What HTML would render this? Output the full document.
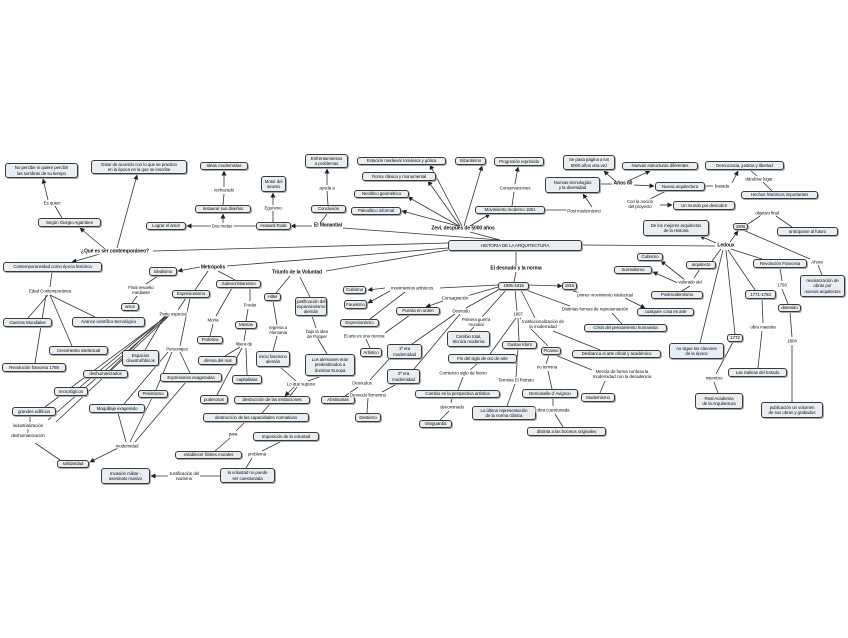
<!DOCTYPE html>
<html><head><meta charset="utf-8">
<style>
html,body{margin:0;padding:0;background:#fff;}
#c{position:relative;width:848px;height:638px;overflow:hidden;font-family:"Liberation Sans",sans-serif;}
svg{position:absolute;left:0;top:0;}
.n{position:absolute;box-sizing:border-box;border:1px solid #3a3a3a;border-radius:3px;background:#e8eef1;box-shadow:1px 1px 0 #aaa;display:flex;align-items:center;justify-content:center;text-align:center;font-size:4.5px;line-height:5.2px;letter-spacing:-0.1px;color:#111;white-space:nowrap;}
.l{position:absolute;transform:translate(-50%,-50%);font-size:4.5px;line-height:5.2px;letter-spacing:-0.1px;text-align:center;white-space:nowrap;background:#fff;color:#111;padding:0 1px;}
.b{font-weight:bold;font-size:5px;}
</style></head><body><div id="c">
<svg width="848" height="638" viewBox="0 0 848 638">
<defs><marker id="a" markerWidth="5" markerHeight="5" refX="4.5" refY="2.5" orient="auto" markerUnits="userSpaceOnUse"><path d="M0,0 L5,2.5 L0,5 z" fill="#222"/></marker></defs>
<g stroke="#333" stroke-width="0.8" fill="none">
<line x1="448" y1="243" x2="153" y2="251"/>
<line x1="448" y1="248" x2="227" y2="266"/>
<line x1="448" y1="250" x2="326" y2="271"/>
<line x1="500" y1="240" x2="343" y2="228"/>
<line x1="500" y1="240" x2="470" y2="232"/>
<line x1="516" y1="250" x2="516" y2="266"/>
<line x1="582" y1="245" x2="715" y2="246"/>
<line x1="105" y1="249" x2="80" y2="228" marker-end="url(#a)"/>
<line x1="117" y1="248" x2="137" y2="175" marker-end="url(#a)"/>
<line x1="100" y1="254" x2="72" y2="262" marker-end="url(#a)"/>
<line x1="62" y1="218" x2="55" y2="206"/>
<line x1="48" y1="200" x2="43" y2="179" marker-end="url(#a)"/>
<line x1="52" y1="272" x2="50" y2="287"/>
<line x1="48" y1="295" x2="28" y2="318"/>
<line x1="50" y1="295" x2="95" y2="317"/>
<line x1="50" y1="295" x2="72" y2="346"/>
<line x1="46" y1="295" x2="35" y2="363"/>
<line x1="256" y1="226" x2="232" y2="226"/>
<line x1="212" y1="226" x2="187" y2="226" marker-end="url(#a)"/>
<line x1="223" y1="223" x2="223" y2="214" marker-end="url(#a)"/>
<line x1="223" y1="205" x2="224" y2="194"/>
<line x1="224" y1="187" x2="224" y2="171" marker-end="url(#a)"/>
<line x1="273" y1="222" x2="273" y2="211"/>
<line x1="273" y1="205" x2="273" y2="193" marker-end="url(#a)"/>
<line x1="312" y1="226" x2="291" y2="226" marker-end="url(#a)"/>
<line x1="320" y1="223" x2="327" y2="214"/>
<line x1="328" y1="205" x2="327" y2="191"/>
<line x1="327" y1="185" x2="327" y2="169" marker-end="url(#a)"/>
<line x1="458" y1="226" x2="402" y2="211" marker-end="url(#a)"/>
<line x1="459" y1="226" x2="408" y2="197" marker-end="url(#a)"/>
<line x1="460" y1="226" x2="428" y2="181" marker-end="url(#a)"/>
<line x1="462" y1="226" x2="430" y2="165" marker-end="url(#a)"/>
<line x1="464" y1="226" x2="482" y2="166" marker-end="url(#a)"/>
<line x1="470" y1="226" x2="490" y2="214" marker-end="url(#a)"/>
<line x1="512" y1="206" x2="514" y2="192"/>
<line x1="515" y1="184" x2="518" y2="167" marker-end="url(#a)"/>
<line x1="545" y1="210" x2="575" y2="210"/>
<line x1="592" y1="207" x2="583" y2="194" marker-end="url(#a)"/>
<line x1="600" y1="184" x2="612" y2="184"/>
<line x1="615" y1="181" x2="604" y2="171" marker-end="url(#a)"/>
<line x1="628" y1="181" x2="650" y2="171" marker-end="url(#a)"/>
<line x1="634" y1="185" x2="654" y2="186" marker-end="url(#a)"/>
<line x1="705" y1="186" x2="713" y2="186"/>
<line x1="732" y1="183" x2="738" y2="171" marker-end="url(#a)"/>
<line x1="750" y1="170" x2="757" y2="176"/>
<line x1="763" y1="182" x2="772" y2="191"/>
<line x1="666" y1="191" x2="650" y2="199"/>
<line x1="660" y1="205" x2="672" y2="205" marker-end="url(#a)"/>
<line x1="716" y1="243" x2="700" y2="236" marker-end="url(#a)"/>
<line x1="730" y1="242" x2="738" y2="231" marker-end="url(#a)"/>
<line x1="748" y1="224" x2="760" y2="216"/>
<line x1="776" y1="216" x2="792" y2="227"/>
<line x1="743" y1="230" x2="810" y2="259"/>
<line x1="818" y1="265" x2="822" y2="275"/>
<line x1="721" y1="249" x2="712" y2="261"/>
<line x1="731" y1="249" x2="762" y2="259"/>
<line x1="728" y1="250" x2="755" y2="290"/>
<line x1="726" y1="250" x2="735" y2="334"/>
<line x1="723" y1="250" x2="700" y2="343"/>
<line x1="700" y1="269" x2="694" y2="278"/>
<line x1="685" y1="280" x2="661" y2="261" marker-end="url(#a)"/>
<line x1="678" y1="283" x2="653" y2="272" marker-end="url(#a)"/>
<line x1="690" y1="286" x2="682" y2="291"/>
<line x1="780" y1="268" x2="782" y2="281"/>
<line x1="782" y1="289" x2="788" y2="304"/>
<line x1="790" y1="312" x2="792" y2="337"/>
<line x1="792" y1="345" x2="792" y2="402"/>
<line x1="762" y1="299" x2="763" y2="323"/>
<line x1="762" y1="331" x2="758" y2="368"/>
<line x1="733" y1="342" x2="716" y2="374"/>
<line x1="714" y1="382" x2="718" y2="393"/>
<line x1="516" y1="272" x2="514" y2="282"/>
<line x1="529" y1="285" x2="562" y2="286" marker-end="url(#a)"/>
<line x1="570" y1="290" x2="580" y2="293"/>
<line x1="625" y1="298" x2="645" y2="308" marker-end="url(#a)"/>
<line x1="526" y1="290" x2="570" y2="306"/>
<line x1="612" y1="313" x2="622" y2="324"/>
<line x1="521" y1="290" x2="535" y2="318"/>
<line x1="553" y1="331" x2="600" y2="350"/>
<line x1="515" y1="290" x2="517" y2="311"/>
<line x1="518" y1="318" x2="519" y2="341"/>
<line x1="520" y1="318" x2="548" y2="346"/>
<line x1="516" y1="318" x2="490" y2="354"/>
<line x1="518" y1="349" x2="516" y2="377"/>
<line x1="515" y1="384" x2="507" y2="406"/>
<line x1="549" y1="355" x2="546" y2="364"/>
<line x1="548" y1="371" x2="552" y2="389"/>
<line x1="555" y1="355" x2="592" y2="370"/>
<line x1="605" y1="381" x2="600" y2="393"/>
<line x1="553" y1="398" x2="553" y2="406"/>
<line x1="555" y1="414" x2="563" y2="427"/>
<line x1="478" y1="363" x2="470" y2="370"/>
<line x1="463" y1="377" x2="458" y2="390"/>
<line x1="452" y1="398" x2="451" y2="403"/>
<line x1="449" y1="411" x2="440" y2="420"/>
<line x1="506" y1="290" x2="482" y2="317"/>
<line x1="474" y1="327" x2="470" y2="331"/>
<line x1="500" y1="289" x2="466" y2="308"/>
<line x1="455" y1="314" x2="412" y2="344"/>
<line x1="460" y1="314" x2="414" y2="369"/>
<line x1="390" y1="358" x2="370" y2="380"/>
<line x1="358" y1="387" x2="345" y2="396"/>
<line x1="397" y1="384" x2="382" y2="392"/>
<line x1="368" y1="398" x2="367" y2="413"/>
<line x1="498" y1="287" x2="467" y2="296"/>
<line x1="443" y1="301" x2="426" y2="307" marker-end="url(#a)"/>
<line x1="498" y1="285" x2="440" y2="288"/>
<line x1="385" y1="288" x2="368" y2="290" marker-end="url(#a)"/>
<line x1="390" y1="291" x2="368" y2="303" marker-end="url(#a)"/>
<line x1="405" y1="292" x2="370" y2="319"/>
<line x1="410" y1="315" x2="385" y2="333"/>
<line x1="366" y1="339" x2="370" y2="348"/>
<line x1="290" y1="276" x2="276" y2="293"/>
<line x1="300" y1="277" x2="310" y2="297"/>
<line x1="273" y1="301" x2="277" y2="325"/>
<line x1="277" y1="336" x2="273" y2="351"/>
<line x1="312" y1="316" x2="316" y2="328"/>
<line x1="318" y1="339" x2="327" y2="354"/>
<line x1="280" y1="367" x2="296" y2="381"/>
<line x1="322" y1="376" x2="308" y2="381"/>
<line x1="294" y1="387" x2="285" y2="396" marker-end="url(#a)"/>
<line x1="297" y1="387" x2="290" y2="396"/>
<line x1="270" y1="404" x2="262" y2="413"/>
<line x1="245" y1="422" x2="236" y2="431"/>
<line x1="230" y1="438" x2="215" y2="451"/>
<line x1="282" y1="441" x2="262" y2="451"/>
<line x1="252" y1="458" x2="246" y2="468"/>
<line x1="220" y1="476" x2="200" y2="476"/>
<line x1="168" y1="476" x2="151" y2="476" marker-end="url(#a)"/>
<line x1="200" y1="267" x2="178" y2="271" marker-end="url(#a)"/>
<line x1="208" y1="271" x2="195" y2="290"/>
<line x1="218" y1="271" x2="235" y2="280"/>
<line x1="158" y1="276" x2="146" y2="284"/>
<line x1="137" y1="296" x2="132" y2="303"/>
<line x1="232" y1="288" x2="216" y2="316"/>
<line x1="213" y1="324" x2="210" y2="336"/>
<line x1="250" y1="288" x2="250" y2="301"/>
<line x1="248" y1="309" x2="246" y2="321"/>
<line x1="246" y1="329" x2="244" y2="341"/>
<line x1="240" y1="347" x2="225" y2="356"/>
<line x1="242" y1="348" x2="217" y2="395"/>
<line x1="246" y1="348" x2="247" y2="375"/>
<line x1="186" y1="298" x2="178" y2="310"/>
<line x1="190" y1="298" x2="180" y2="346"/>
<line x1="165" y1="316" x2="145" y2="350" marker-start="url(#a)"/>
<line x1="165" y1="316" x2="110" y2="370"/>
<line x1="166" y1="316" x2="80" y2="387"/>
<line x1="167" y1="316" x2="45" y2="407"/>
<line x1="168" y1="316" x2="48" y2="420"/>
<line x1="169" y1="316" x2="56" y2="422"/>
<line x1="180" y1="352" x2="190" y2="373"/>
<line x1="172" y1="352" x2="156" y2="390"/>
<line x1="168" y1="352" x2="124" y2="404"/>
<line x1="152" y1="398" x2="130" y2="442"/>
<line x1="118" y1="413" x2="126" y2="442"/>
<line x1="186" y1="382" x2="135" y2="442"/>
<line x1="118" y1="448" x2="90" y2="462" marker-end="url(#a)"/>
<line x1="35" y1="443" x2="60" y2="460"/>
<line x1="30" y1="416" x2="30" y2="422"/>
</g></svg>

<div class="n" style="left:448px;top:240px;width:134px;height:11px;">HISTORIA DE LA ARQUITECTURA</div>
<div class="n" style="left:5px;top:163px;width:73px;height:15px;">No percibe ni quiere percibir<br>las sombras de su tiempo</div>
<div class="n" style="left:91px;top:160px;width:96px;height:14px;">Estar de acuerdo con lo que se practica<br>en la época en la que se inscribe</div>
<div class="n" style="left:200px;top:162px;width:48px;height:8px;">Ideas modernistas</div>
<div class="n" style="left:261px;top:176px;width:25px;height:16px;">Motor del<br>asunto</div>
<div class="n" style="left:195px;top:205px;width:56px;height:8px;">Instaurar sus diseños</div>
<div class="n" style="left:146px;top:222px;width:40px;height:8px;">Lograr el amor</div>
<div class="n" style="left:256px;top:222px;width:35px;height:8px;">Howard Roak</div>
<div class="n" style="left:38px;top:218px;width:63px;height:9px;">Según Giorgio Agamben</div>
<div class="n" style="left:3px;top:262px;width:99px;height:10px;">Contemporaneidad como época histórica</div>
<div class="n" style="left:3px;top:318px;width:49px;height:9px;">Guerras Mundiales</div>
<div class="n" style="left:72px;top:317px;width:73px;height:10px;">Avance científico-tecnológico</div>
<div class="n" style="left:49px;top:346px;width:59px;height:9px;">Crecimiento intelectual</div>
<div class="n" style="left:2px;top:363px;width:64px;height:9px;">Revolución francesa 1789</div>
<div class="n" style="left:149px;top:267px;width:28px;height:9px;">Idealismo</div>
<div class="n" style="left:121px;top:303px;width:18px;height:8px;">amor</div>
<div class="n" style="left:172px;top:290px;width:38px;height:8px;">Expresionismo</div>
<div class="n" style="left:216px;top:280px;width:45px;height:8px;">Judeocristianismo</div>
<div class="n" style="left:264px;top:293px;width:17px;height:8px;">Hitler</div>
<div class="n" style="left:295px;top:297px;width:32px;height:19px;">justificación del<br>expansionismo<br>alemán</div>
<div class="n" style="left:197px;top:336px;width:26px;height:8px;">Profetiza</div>
<div class="n" style="left:235px;top:321px;width:22px;height:8px;">Mesías</div>
<div class="n" style="left:122px;top:350px;width:37px;height:16px;">Espacios<br>claustrofóbicos</div>
<div class="n" style="left:198px;top:356px;width:39px;height:9px;">ofensa del mal</div>
<div class="n" style="left:256px;top:351px;width:34px;height:16px;">inicio fascismo<br>alemán</div>
<div class="n" style="left:305px;top:354px;width:50px;height:22px;">Los alemanes eran<br>predestinados a<br>dominar Europa</div>
<div class="n" style="left:83px;top:370px;width:45px;height:8px;">deshumanizados</div>
<div class="n" style="left:160px;top:373px;width:62px;height:9px;">Expresiones exageradas</div>
<div class="n" style="left:232px;top:375px;width:30px;height:9px;">capitalistas</div>
<div class="n" style="left:54px;top:387px;width:34px;height:9px;">tecnológicos</div>
<div class="n" style="left:138px;top:390px;width:30px;height:8px;">Pesimismo</div>
<div class="n" style="left:200px;top:395px;width:28px;height:9px;">poderosos</div>
<div class="n" style="left:234px;top:396px;width:76px;height:8px;">destrucción de las instituciones</div>
<div class="n" style="left:12px;top:407px;width:44px;height:9px;">grandes edificios</div>
<div class="n" style="left:89px;top:404px;width:56px;height:9px;">Maquillaje exagerado</div>
<div class="n" style="left:203px;top:413px;width:106px;height:9px;">destrucción de las capacidades normativas</div>
<div class="n" style="left:253px;top:432px;width:66px;height:9px;">Imposición de la voluntad</div>
<div class="n" style="left:175px;top:451px;width:67px;height:8px;">establecer límites morales</div>
<div class="n" style="left:57px;top:460px;width:32px;height:8px;">solidaridad</div>
<div class="n" style="left:101px;top:468px;width:49px;height:16px;">Invasión militar -<br>asesinato masivo</div>
<div class="n" style="left:220px;top:468px;width:55px;height:15px;">la voluntad no puede<br>ser cuestionada</div>
<div class="n" style="left:305px;top:154px;width:43px;height:14px;">Enfrentamientos<br>a problemas</div>
<div class="n" style="left:357px;top:157px;width:89px;height:8px;">Estación medieval románica y gótica</div>
<div class="n" style="left:455px;top:157px;width:31px;height:8px;">Bizantismo</div>
<div class="n" style="left:494px;top:157px;width:50px;height:9px;">Progresión reprimida</div>
<div class="n" style="left:362px;top:172px;width:74px;height:9px;">Roma clásica y monumental</div>
<div class="n" style="left:311px;top:205px;width:35px;height:8px;">Conclusión</div>
<div class="n" style="left:354px;top:190px;width:55px;height:8px;">Neolítico geométrico</div>
<div class="n" style="left:351px;top:207px;width:50px;height:8px;">Paleolítico informal</div>
<div class="n" style="left:475px;top:206px;width:70px;height:8px;">Movimiento moderno 1851</div>
<div class="n" style="left:563px;top:155px;width:52px;height:15px;">Se pasa página a los<br>5000 años otra vez</div>
<div class="n" style="left:545px;top:177px;width:55px;height:16px;">Nuevas tecnologías<br>y la diversidad</div>
<div class="n" style="left:622px;top:162px;width:76px;height:8px;">Nuevas estructuras diferentes</div>
<div class="n" style="left:705px;top:161px;width:79px;height:9px;">Democracia, justicia y libertad</div>
<div class="n" style="left:655px;top:182px;width:50px;height:9px;">Nueva arquitectura</div>
<div class="n" style="left:741px;top:191px;width:77px;height:8px;">Hechos históricos importantes</div>
<div class="n" style="left:673px;top:201px;width:62px;height:9px;">Un mundo por descubrir</div>
<div class="n" style="left:643px;top:220px;width:66px;height:16px;">De los mejores arquitectos<br>de la Historia</div>
<div class="n" style="left:733px;top:223px;width:15px;height:7px;">1806</div>
<div class="n" style="left:777px;top:227px;width:61px;height:9px;">anticiparse al futuro</div>
<div class="n" style="left:637px;top:253px;width:26px;height:8px;">Cubismo</div>
<div class="n" style="left:614px;top:266px;width:38px;height:8px;">Surrealismo</div>
<div class="n" style="left:686px;top:261px;width:30px;height:8px;">arquitecto</div>
<div class="n" style="left:753px;top:259px;width:54px;height:9px;">Revolución Francesa</div>
<div class="n" style="left:800px;top:275px;width:45px;height:22px;">revalorización de<br>obras por<br>nuevos arquitectos</div>
<div class="n" style="left:562px;top:282px;width:15px;height:8px;">1916</div>
<div class="n" style="left:651px;top:291px;width:52px;height:8px;">Postmodernismo</div>
<div class="n" style="left:745px;top:290px;width:31px;height:9px;">1771-1783</div>
<div class="n" style="left:778px;top:304px;width:23px;height:8px;">detenido</div>
<div class="n" style="left:637px;top:308px;width:57px;height:8px;">cualquier cosa es arte</div>
<div class="n" style="left:584px;top:324px;width:83px;height:8px;">Crisis del pensamiento humanista</div>
<div class="n" style="left:727px;top:334px;width:16px;height:8px;">1772</div>
<div class="n" style="left:669px;top:343px;width:55px;height:16px;">no sigue los cánones<br>de la época</div>
<div class="n" style="left:572px;top:350px;width:89px;height:8px;">Desbanca el arte oficial y académico</div>
<div class="n" style="left:728px;top:368px;width:59px;height:9px;">Las Salinas del Estado</div>
<div class="n" style="left:581px;top:393px;width:34px;height:9px;">Modernismo</div>
<div class="n" style="left:695px;top:393px;width:48px;height:16px;">Real Academia<br>de la Arquitectura</div>
<div class="n" style="left:761px;top:402px;width:62px;height:16px;">publicación un volumen<br>de sus obras y grabados</div>
<div class="n" style="left:498px;top:282px;width:31px;height:8px;">1905-1915</div>
<div class="n" style="left:343px;top:286px;width:23px;height:8px;">Cubismo</div>
<div class="n" style="left:344px;top:300px;width:23px;height:9px;">Fauvismo</div>
<div class="n" style="left:396px;top:307px;width:44px;height:8px;">Puesta en orden</div>
<div class="n" style="left:340px;top:319px;width:39px;height:8px;">Expresionismo</div>
<div class="n" style="left:447px;top:331px;width:43px;height:16px;">Cambio total,<br>técnica moderna</div>
<div class="n" style="left:502px;top:341px;width:35px;height:8px;">Gustav Klimt</div>
<div class="n" style="left:541px;top:347px;width:20px;height:8px;">Picasso</div>
<div class="n" style="left:360px;top:348px;width:22px;height:9px;">Artístico</div>
<div class="n" style="left:387px;top:344px;width:35px;height:15px;">1ª era<br>modernidad</div>
<div class="n" style="left:448px;top:354px;width:69px;height:9px;">Fin del siglo de oro de arte</div>
<div class="n" style="left:387px;top:369px;width:33px;height:15px;">2ª era<br>modernidad</div>
<div class="n" style="left:415px;top:390px;width:85px;height:8px;">Cambio en la perspectiva artística</div>
<div class="n" style="left:522px;top:389px;width:56px;height:9px;">Demoiselle d´Avignon</div>
<div class="n" style="left:321px;top:396px;width:34px;height:8px;">Abstinatras</div>
<div class="n" style="left:472px;top:406px;width:64px;height:14px;">La última representación<br>de la norma clásica</div>
<div class="n" style="left:355px;top:413px;width:26px;height:9px;">Destierro</div>
<div class="n" style="left:419px;top:420px;width:33px;height:8px;">Vanguardia</div>
<div class="n" style="left:527px;top:427px;width:79px;height:9px;">distinta a las bocetos originales</div>

<div class="l b" style="left:115px;top:252px;">¿Qué es ser contemporáneo?</div>
<div class="l" style="left:52px;top:203px;">Es quien</div>
<div class="l" style="left:50px;top:291px;">Edad Contemporánea</div>
<div class="l" style="left:222px;top:226px;">Dos metas</div>
<div class="l" style="left:224px;top:190px;">rechazado</div>
<div class="l" style="left:273px;top:208px;">Egoísmo</div>
<div class="l b" style="left:328px;top:226px;">El Manantial</div>
<div class="l" style="left:327px;top:188px;">ayuda a</div>
<div class="l b" style="left:463px;top:229px;">Zevi, después de 5000 años</div>
<div class="l" style="left:515px;top:188px;">Conservaciones</div>
<div class="l" style="left:584px;top:211px;">Post modernismo</div>
<div class="l b" style="left:623px;top:184px;">Años 60</div>
<div class="l" style="left:722px;top:186px;">basada</div>
<div class="l" style="left:759px;top:179px;">dándose lugar</div>
<div class="l" style="left:640px;top:204px;">Con la noción<br>del proyecto</div>
<div class="l" style="left:767px;top:213px;">objetivo final</div>
<div class="l b" style="left:726px;top:246px;">Ledoux</div>
<div class="l" style="left:817px;top:262px;">Ahora</div>
<div class="l" style="left:690px;top:282px;">valorado del</div>
<div class="l" style="left:782px;top:285px;">1793</div>
<div class="l" style="left:605px;top:295px;">primer movimiento intelectual</div>
<div class="l" style="left:595px;top:309px;">Distintas formas de representación</div>
<div class="l" style="left:543px;top:324px;">Institucionalización de<br>la modernidad</div>
<div class="l" style="left:763px;top:327px;">obra maestra</div>
<div class="l" style="left:792px;top:341px;">1804</div>
<div class="l" style="left:622px;top:374px;">Mezcla de forma confusa la<br>modernidad con la decadencia</div>
<div class="l" style="left:714px;top:378px;">miembro</div>
<div class="l b" style="left:516px;top:269px;">El desnudo y la norma</div>
<div class="l" style="left:412px;top:288px;">movimientos artísticos</div>
<div class="l" style="left:455px;top:298px;">Consagración</div>
<div class="l" style="left:461px;top:311px;">Desnudo</div>
<div class="l" style="left:476px;top:322px;">Primera guerra<br>mundial</div>
<div class="l" style="left:518px;top:314px;">1907</div>
<div class="l" style="left:364px;top:336px;">El arte es una ciencia</div>
<div class="l" style="left:547px;top:367px;">no termina</div>
<div class="l" style="left:463px;top:373px;">Comienzo siglo de hierro</div>
<div class="l" style="left:516px;top:380px;">Termina El Retrato</div>
<div class="l" style="left:362px;top:383px;">Desnudos</div>
<div class="l" style="left:368px;top:395px;">Desnudo femenino</div>
<div class="l" style="left:452px;top:407px;">denominado</div>
<div class="l" style="left:553px;top:410px;">obra cuestionada</div>
<div class="l b" style="left:297px;top:273px;">Triunfo de la Voluntad</div>
<div class="l b" style="left:213px;top:268px;">Metrópolis</div>
<div class="l" style="left:141px;top:290px;">Final resuelto<br>mediante</div>
<div class="l" style="left:173px;top:314px;">Parte especial</div>
<div class="l" style="left:213px;top:320px;">Moría</div>
<div class="l" style="left:250px;top:305px;">Frodar</div>
<div class="l" style="left:244px;top:344px;">libera de</div>
<div class="l" style="left:278px;top:330px;">regresa a<br>Alemania</div>
<div class="l" style="left:317px;top:334px;">bajo la idea<br>de Popper</div>
<div class="l" style="left:177px;top:349px;">Personajes</div>
<div class="l" style="left:301px;top:384px;">Lo que supuso</div>
<div class="l" style="left:28px;top:431px;">industrialización<br>y<br>deshumanización</div>
<div class="l" style="left:127px;top:446px;">modernidad</div>
<div class="l" style="left:233px;top:434px;">para</div>
<div class="l" style="left:257px;top:454px;">problema</div>
<div class="l" style="left:184px;top:476px;">Justificación del<br>nazismo</div>
</div></body></html>
